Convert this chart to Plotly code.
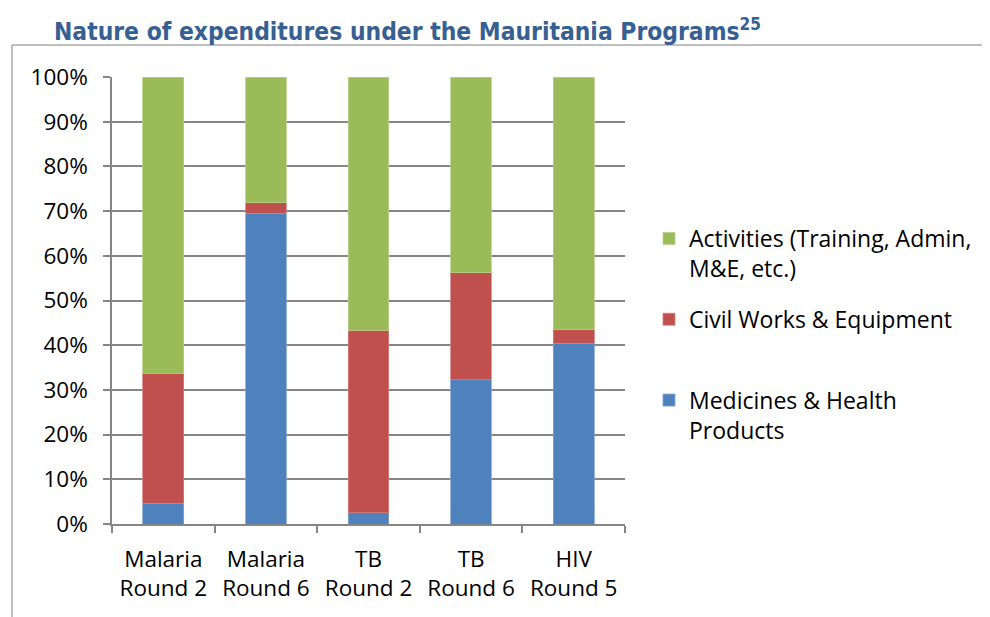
import plotly.graph_objects as go

categories = ["Malaria<br>Round 2", "Malaria<br>Round 6", "TB<br>Round 2", "TB<br>Round 6", "HIV<br>Round 5"]
medicines = [4.6, 69.5, 2.5, 32.3, 40.4]
civil_works = [29.1, 2.4, 40.9, 23.9, 3.2]
activities = [66.3, 28.1, 56.6, 43.8, 56.4]
y_ticks = [0, 10, 20, 30, 40, 50, 60, 70, 80, 90, 100]
y_tick_text = [f"{v}%" for v in y_ticks]

OFF = 8  # default page body margin
W, H = 990 - OFF, 617 - OFF
L, R, T, B = 112 - OFF, 990 - 625, 77 - OFF, 617 - 524
pw, ph = W - L - R, H - T - B

def px_x(x):
    return (x - OFF - L) / pw

def px_y(y):
    return (H - B - (y - OFF)) / ph

fig = go.Figure()
series = [
    ("Medicines & Health<br>Products", medicines, "#4F81BD", "#7FA3D1", 3),
    ("Civil Works & Equipment<br>&nbsp;", civil_works, "#C0504D", "#D6807E", 2),
    ("Activities (Training, Admin,<br>M&E, etc.)", activities, "#9BBB59", "#B9D08A", 1),
]
for i, (name, vals, col, edge, rank) in enumerate(series):
    fig.add_trace(go.Bar(
        x=categories, y=vals, name=name,
        marker=dict(color=col, line=dict(color=edge, width=0.8)),
        legendgroup=str(i), legendrank=rank, width=0.397,
    ))

font_main = "'Open Sans', sans-serif"
fig.update_layout(
    width=W, height=H,
    margin=dict(l=L, r=R, t=T, b=B, autoexpand=False),
    barmode="stack",
    paper_bgcolor="white", plot_bgcolor="white",
    font=dict(family=font_main, size=22, color="#000000"),
    showlegend=True,
    legend=dict(
        x=px_x(649), y=px_y(217), xanchor="left", yanchor="top",
        traceorder="grouped", tracegroupgap=18, valign="top",
        font=dict(family=font_main, size=23, color="#000000"),
        itemwidth=30, bgcolor="rgba(0,0,0,0)",
    ),
    xaxis=dict(
        showline=True, linecolor="#868686", linewidth=1.5,
        ticks="outside", tickson="boundaries", ticklen=7, tickcolor="#868686", tickwidth=1.5,
        showgrid=False, tickfont=dict(size=22.5), ticklabelstandoff=14,
    ),
    yaxis=dict(
        range=[0, 100], tickvals=y_ticks, ticktext=y_tick_text,
        showline=True, linecolor="#868686", linewidth=1.5,
        ticks="outside", ticklen=7, tickcolor="#868686", tickwidth=1.5,
        showgrid=True, gridcolor="#868686", gridwidth=1.5,
        tickfont=dict(size=22.5), ticklabelstandoff=11, zeroline=False,
    ),
    shapes=[
        dict(type="line", xref="paper", yref="paper",
             x0=px_x(12), x1=px_x(995), y0=px_y(45), y1=px_y(45),
             line=dict(color="#7F7F7F", width=1)),
        dict(type="line", xref="paper", yref="paper",
             x0=px_x(12), x1=px_x(12), y0=px_y(45), y1=px_y(620),
             line=dict(color="#7F7F7F", width=1)),
    ],
    annotations=[
        dict(text="<b>Nature of expenditures under the Mauritania Programs<sup>25</sup></b>",
             xref="paper", yref="paper", x=px_x(52), y=px_y(30),
             xanchor="left", yanchor="middle", showarrow=False,
             font=dict(family="'DejaVu Sans Condensed', 'DejaVu Sans', sans-serif", size=24.4, color="#376092")),
    ],
)

fig.write_html("out.html")
